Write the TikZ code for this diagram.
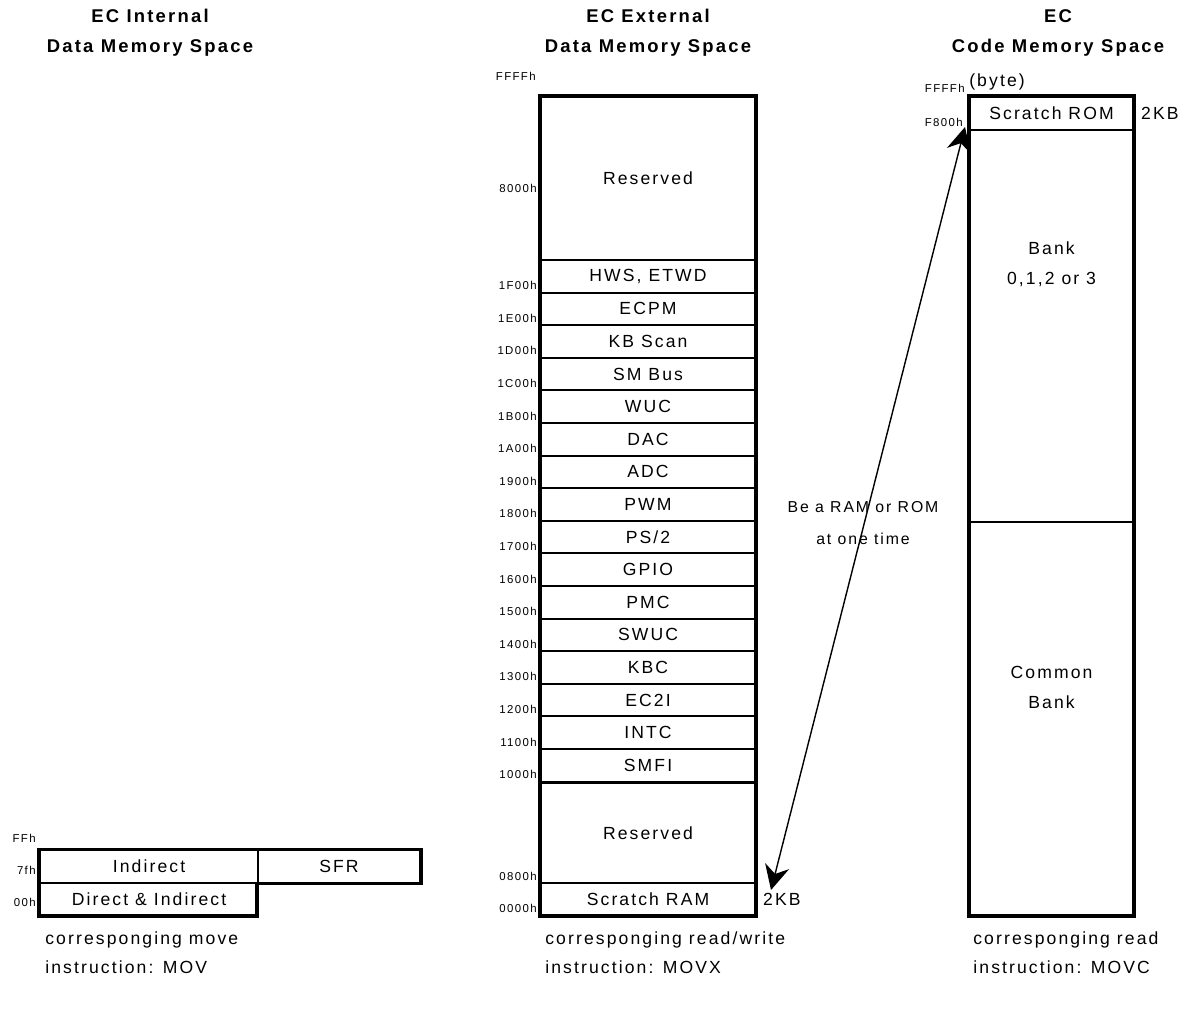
\documentclass[tikz,border=0pt]{standalone}
\usepackage{fontspec}
\setmainfont[LetterSpace=12]{Liberation Sans}
\usetikzlibrary{arrows.meta,positioning}

\begin{document}
\begin{tikzpicture}[
    x=0.02cm, y=-0.02cm,
    cell/.style={rectangle, draw, line width=1.1pt, inner sep=0pt, minimum width=#1, minimum height=0.652cm, font=\fontsize{10}{12}\selectfont},
    frame/.style={draw, line width=1.8pt},
    addr/.style={anchor=base east, inner sep=0pt, font=\fontsize{6.5}{8}\selectfont},
    head/.style={align=center, font=\fontsize{10.5}{17}\selectfont\bfseries},
    note/.style={align=left, anchor=north west, inner sep=0pt, font=\fontsize{10}{17}\selectfont},
    txt/.style={align=center, font=\fontsize{10}{17}\selectfont},
    link/.style={{Stealth[length=14pt,width=14pt]}-{Stealth[length=14pt,width=14pt]}, line width=0.8pt}
]
    \useasboundingbox (0,0) rectangle (1182,1009);

    % headings
    \node[head] (hint) at (150,33) {EC Internal\\Data Memory Space};
    \node[head] (hext) at (648,33) {EC External\\Data Memory Space};
    \node[head] (hcode) at (1058,33) {EC\\Code Memory Space};

    % internal data memory
    \node[cell=4.36cm] (ind) at (149,866.5) {Indirect};
    \node[cell=3.24cm] (sfr) at (339,866.5) {SFR};
    \node[cell=4.36cm] (dind) at (149,899) {Direct \& Indirect};
    \draw[frame] (ind.north west) -- (sfr.north east) -- (sfr.south east) -- (sfr.south west)
        |- (dind.south east) -- (dind.south west) -- cycle;
    \node[addr] (aFF) at (36,842) {FFh};
    \node[addr] (a7f) at (36,874) {7fh};
    \node[addr] (a00) at (36,906) {00h};

    % external data memory
    \node[cell=4.28cm, minimum height=3.26cm] (rsvhi) at (648,178.5) {Reserved};
    \node[cell=4.28cm] (hws) at (648,276.3) {HWS, ETWD};
    \node[cell=4.28cm] (ecpm) at (648,308.9) {ECPM};
    \node[cell=4.28cm] (kbs) at (648,341.5) {KB Scan};
    \node[cell=4.28cm] (smb) at (648,374.1) {SM Bus};
    \node[cell=4.28cm] (wuc) at (648,406.7) {WUC};
    \node[cell=4.28cm] (dac) at (648,439.3) {DAC};
    \node[cell=4.28cm] (adc) at (648,471.9) {ADC};
    \node[cell=4.28cm] (pwm) at (648,504.5) {PWM};
    \node[cell=4.28cm] (ps2) at (648,537.1) {PS/2};
    \node[cell=4.28cm] (gpio) at (648,569.7) {GPIO};
    \node[cell=4.28cm] (pmc) at (648,602.3) {PMC};
    \node[cell=4.28cm] (swuc) at (648,634.9) {SWUC};
    \node[cell=4.28cm] (kbc) at (648,667.5) {KBC};
    \node[cell=4.28cm] (ecti) at (648,700.1) {EC2I};
    \node[cell=4.28cm] (intc) at (648,732.7) {INTC};
    \node[cell=4.28cm] (smfi) at (648,765.3) {SMFI};
    \node[cell=4.28cm, minimum height=2.0cm] (rsvlo) at (648,833) {Reserved};
    \node[cell=4.28cm, minimum height=0.64cm] (sram) at (648,899) {Scratch RAM};
    \draw[frame] (rsvhi.north west) rectangle (sram.south east);
    \node[txt, anchor=west] (ramkb) at (757,899) {2KB};

    \node[addr] (eFFFF) at (536,80) {FFFFh};
    \node[addr] (e8000) at (537,192) {8000h};
    \node[addr, yshift=1.7pt] (e1F00) at (537,292.6) {1F00h};
    \node[addr, yshift=1.7pt] (e1E00) at (537,325.2) {1E00h};
    \node[addr, yshift=1.7pt] (e1D00) at (537,357.8) {1D00h};
    \node[addr, yshift=1.7pt] (e1C00) at (537,390.4) {1C00h};
    \node[addr, yshift=1.7pt] (e1B00) at (537,423) {1B00h};
    \node[addr, yshift=1.7pt] (e1A00) at (537,455.6) {1A00h};
    \node[addr, yshift=1.7pt] (e1900) at (537,488.2) {1900h};
    \node[addr, yshift=1.7pt] (e1800) at (537,520.8) {1800h};
    \node[addr, yshift=1.7pt] (e1700) at (537,553.4) {1700h};
    \node[addr, yshift=1.7pt] (e1600) at (537,586) {1600h};
    \node[addr, yshift=1.7pt] (e1500) at (537,618.6) {1500h};
    \node[addr, yshift=1.7pt] (e1400) at (537,651.2) {1400h};
    \node[addr, yshift=1.7pt] (e1300) at (537,683.8) {1300h};
    \node[addr, yshift=1.7pt] (e1200) at (537,716.4) {1200h};
    \node[addr, yshift=1.7pt] (e1100) at (537,749) {1100h};
    \node[addr, yshift=1.7pt] (e1000) at (537,781.6) {1000h};
    \node[addr, yshift=1.7pt] (e0800) at (537,883) {0800h};
    \node[addr, yshift=1.7pt] (e0000) at (537,915) {0000h};

    % code memory
    \node[cell=3.26cm, minimum height=0.66cm] (srom) at (1051.5,113.5) {Scratch ROM};
    \node[cell=3.26cm, minimum height=7.84cm] (bank) at (1051.5,326) {};
    \node[cell=3.26cm, minimum height=7.86cm] (common) at (1051.5,718.5) {};
    \draw[frame] (srom.north west) rectangle (common.south east);
    \node[txt] (banktxt) at (1051.5,264) {Bank\\0,1,2 or 3};
    \node[txt] (commontxt) at (1051.5,687) {Common\\Bank};
    \node[txt, anchor=west] (romkb) at (1135,113) {2KB};
    \node[txt] (byte) at (997,82) {(byte)};
    \node[addr] (cFFFF) at (965,92) {FFFFh};
    \node[addr] (cF800) at (963,126) {F800h};

    % RAM/ROM link
    \coordinate (ramtip) at (771,890);
    \coordinate (romtip) at (965,127);
    \draw[link] (ramtip) -- (romtip);
    \node[txt, font=\fontsize{9}{18}\selectfont] (oneat) at (863,523) {Be a RAM or ROM\\at one time};

    % instructions
    \node[note] (nmov) at (45,931) {corresponging move\\instruction: MOV};
    \node[note] (nmovx) at (545,931) {corresponging read/write\\instruction: MOVX};
    \node[note] (nmovc) at (973,931) {corresponging read\\instruction: MOVC};
\end{tikzpicture}
\end{document}
